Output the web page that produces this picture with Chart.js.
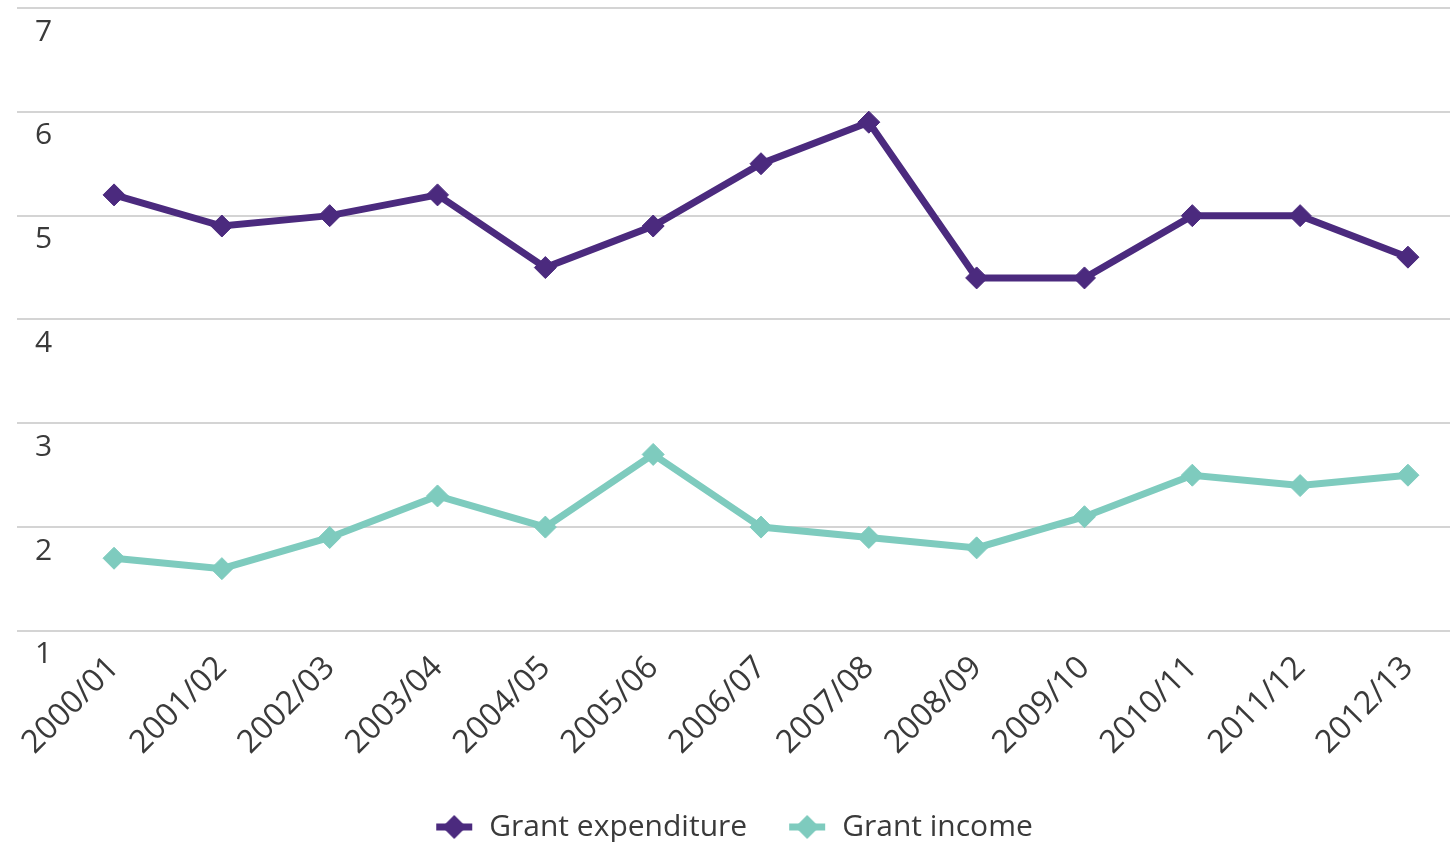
<!DOCTYPE html>
<html>
<head>
<meta charset="utf-8">
<script src="https://cdn.jsdelivr.net/npm/chart.js@4"></script>
<style>
	html, body { margin: 0; padding: 0; background: #fff; overflow: hidden; }
	#wrap { width: 1450px; height: 842px; position: relative; }
	#grantChart { display: block; }
</style>
</head>
<body>
<div id="wrap"><canvas id="grantChart"></canvas></div>
<script>
var years = ["2000/01", "2001/02", "2002/03", "2003/04", "2004/05", "2005/06", "2006/07",
	"2007/08", "2008/09", "2009/10", "2010/11", "2011/12", "2012/13"];
var expenditure = [5.2, 4.9, 5.0, 5.2, 4.5, 4.9, 5.5, 5.9, 4.4, 4.4, 5.0, 5.0, 4.6];
var income = [1.7, 1.6, 1.9, 2.3, 2.0, 2.7, 2.0, 1.9, 1.8, 2.1, 2.5, 2.4, 2.5];
var yTicks = [1, 2, 3, 4, 5, 6, 7];

var purple = "#4b2a7e";
var teal = "#7ecbbe";

// little line + diamond swatch for the legend
function legendMark(color) {
	var c = document.createElement("canvas");
	c.width = 40; c.height = 26;
	var ctx = c.getContext("2d");
	ctx.strokeStyle = color;
	ctx.lineWidth = 7;
	ctx.beginPath();
	ctx.moveTo(2, 13); ctx.lineTo(38, 13);
	ctx.stroke();
	ctx.fillStyle = color;
	ctx.beginPath();
	ctx.moveTo(20, 1); ctx.lineTo(32, 13); ctx.lineTo(20, 25); ctx.lineTo(8, 13);
	ctx.closePath();
	ctx.fill();
	return c;
}

function toPoints(arr) {
	return arr.map(function(v, i) { return { x: i, y: v }; });
}

var font = "'Open Sans', sans-serif";

new Chart(document.getElementById("grantChart"), {
	type: "line",
	data: {
		datasets: [{
			label: "Grant expenditure",
			data: toPoints(expenditure),
			borderColor: purple,
			backgroundColor: purple,
			borderWidth: 7,
			pointStyle: "rectRot",
			pointRadius: 11,
			pointBorderWidth: 1,
			tension: 0
		}, {
			label: "Grant income",
			data: toPoints(income),
			borderColor: teal,
			backgroundColor: teal,
			borderWidth: 7,
			pointStyle: "rectRot",
			pointRadius: 11,
			pointBorderWidth: 1,
			tension: 0
		}]
	},
	options: {
		responsive: true,
		maintainAspectRatio: false,
		animation: false,
		layout: { autoPadding: false, padding: { left: 17, right: 0, top: 8, bottom: -10 } },
		plugins: {
			tooltip: { enabled: false },
			legend: {
				position: "bottom",
				labels: {
					usePointStyle: true,
					pointStyleWidth: 40,
					padding: 40,
					color: "#3a3a3a",
					font: { family: font, size: 30 },
					generateLabels: function(chart) {
						return chart.data.datasets.map(function(ds, i) {
							return {
								text: ds.label,
								pointStyle: legendMark(ds.borderColor),
								fillStyle: ds.borderColor,
								strokeStyle: ds.borderColor,
								lineWidth: 0,
								fontColor: "#3a3a3a",
								datasetIndex: i
							};
						});
					}
				}
			}
		},
		scales: {
			x: {
				type: "linear",
				min: -0.9,
				max: 12.39,
				afterBuildTicks: function(scale) {
					scale.ticks = years.map(function(y, i) { return { value: i }; });
				},
				afterFit: function(scale) {
					scale.paddingLeft = 0;
					scale.paddingRight = 0;
				},
				grid: { display: false },
				border: { display: false },
				ticks: {
					autoSkip: false,
					minRotation: 45,
					maxRotation: 45,
					padding: 10,
					color: "#3a3a3a",
					font: { family: font, size: 32 },
					callback: function(v) { return years[v]; }
				}
			},
			y: {
				min: 1,
				max: 7,
				afterBuildTicks: function(scale) {
					scale.ticks = yTicks.map(function(v) { return { value: v }; });
				},
				// labels sit inside the plot, so the axis takes no room
				afterFit: function(scale) {
					scale.width = 0;
					scale.paddingTop = 0;
					scale.paddingBottom = 0;
				},
				grid: { color: "#d4d4d4", lineWidth: 2, drawTicks: false },
				border: { display: false },
				ticks: {
					mirror: true,
					padding: 18,
					labelOffset: 24,
					color: "#3a3a3a",
					font: { family: font, size: 30 }
				}
			}
		}
	}
});
</script>
</body>
</html>
